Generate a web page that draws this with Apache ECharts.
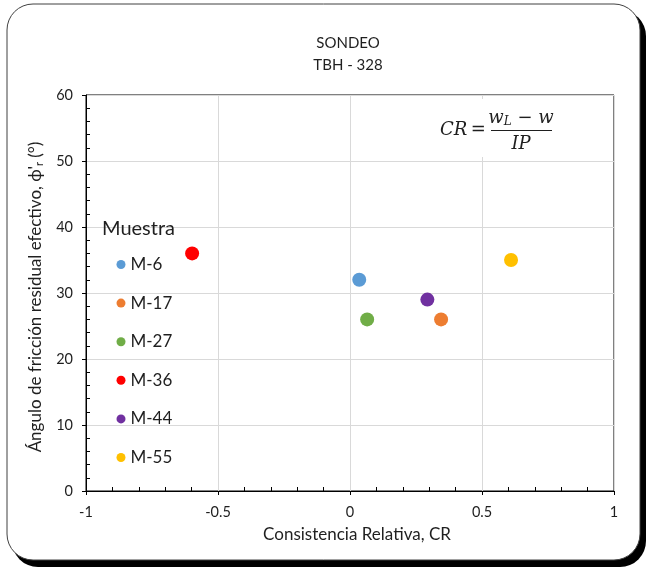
<!DOCTYPE html>
<html>
<head>
<meta charset="utf-8">
<script src="https://cdn.jsdelivr.net/npm/echarts@6/dist/echarts.min.js"></script>
<style>
html,body{margin:0;padding:0;background:#fff;}
#c{width:646px;height:567px;}
</style>
</head>
<body>
<div id="c"></div>
<script>
// ---- data ----
const sampleNames = ['M-6', 'M-17', 'M-27', 'M-36', 'M-44', 'M-55'];
const crValues = [0.035, 0.345, 0.065, -0.598, 0.293, 0.61];
const phiValues = [32, 26, 26, 36, 29, 35];
const sampleColors = ['#5B9BD5', '#ED7D31', '#70AD47', '#FF0000', '#7030A0', '#FFC000'];
const xTicks = { min: -1, max: 1, step: 0.5 };
const yTicks = { min: 0, max: 60, step: 10 };

const FONT = 'Lato, "Liberation Sans", sans-serif';
const TXT = '#1f1f1f';
const chart = echarts.init(document.getElementById('c'), null, { renderer: 'canvas' });

const series = sampleNames.map((name, i) => ({
  name: name,
  type: 'scatter',
  symbol: 'circle',
  symbolSize: 14,
  itemStyle: { color: sampleColors[i], opacity: 1 },
  data: [[crValues[i], phiValues[i]]],
  z: 3
}));

const mathFont = '"DejaVu Serif", "Liberation Serif", serif';

chart.setOption({
  animation: false,
  backgroundColor: 'transparent',
  title: {
    text: 'SONDEO\nTBH - 328',
    left: 343, top: 27, textAlign: 'center',
    textStyle: { fontFamily: FONT, fontSize: 15, fontWeight: 'normal', color: TXT, lineHeight: 22 }
  },
  grid: {
    left: 86, right: 32, top: 95, bottom: 76,
    show: true, borderColor: '#000', borderWidth: 1, backgroundColor: 'transparent'
  },
  legend: {
    orient: 'vertical',
    left: 111.5, top: 250.5,
    itemWidth: 9, itemHeight: 9,
    itemGap: 20.6,
    icon: 'circle',
    textStyle: { fontFamily: FONT, fontSize: 17, color: TXT, lineHeight: 18 },
    data: sampleNames
  },
  xAxis: {
    type: 'value',
    min: xTicks.min, max: xTicks.max, interval: xTicks.step,
    name: 'Consistencia Relativa, CR',
    nameLocation: 'middle', nameGap: 35,
    nameTextStyle: { fontFamily: FONT, fontSize: 17, color: TXT, padding: [0, 0, 0, 14] },
    axisLine: { show: true, onZero: false, lineStyle: { color: '#000', width: 1 } },
    axisTick: { show: true, inside: false, length: 4, lineStyle: { color: '#000' } },
    minorTick: { show: true, splitNumber: 5, length: -4, lineStyle: { color: '#000' } },
    axisLabel: { fontFamily: FONT, fontSize: 14.5, color: TXT, margin: 14 },
    splitLine: { show: true, lineStyle: { color: '#d9d9d9', width: 1 } }
  },
  yAxis: {
    type: 'value',
    min: yTicks.min, max: yTicks.max, interval: yTicks.step,
    name: "{a|Ángulo de fricción residual efectivo, ϕ'}{s|r}{a| (°)}",
    nameLocation: 'middle', nameGap: 39,
    nameTextStyle: {
      fontFamily: FONT, fontSize: 17, color: TXT, padding: [0, 8, 0, 0],
      rich: {
        a: { fontFamily: FONT, fontSize: 17, color: TXT },
        s: { fontFamily: FONT, fontSize: 11, color: TXT, padding: [9, 0, 0, 0] }
      }
    },
    axisLine: { show: true, onZero: false, lineStyle: { color: '#000', width: 1 } },
    axisTick: { show: true, inside: false, length: 4, lineStyle: { color: '#000' } },
    minorTick: { show: true, splitNumber: 5, length: -4, lineStyle: { color: '#000' } },
    axisLabel: { fontFamily: FONT, fontSize: 14.5, color: TXT, margin: 13 },
    splitLine: { show: true, lineStyle: { color: '#d9d9d9', width: 1 } }
  },
  graphic: [
    { type: 'rect', z: -20, silent: true, shape: { x: 12, y: 10, width: 634, height: 557, r: 26 }, style: { fill: '#000' } },
    { type: 'rect', z: -19, silent: true, shape: { x: 7, y: 4, width: 633, height: 556, r: 26 }, style: { fill: '#fff', stroke: '#404040', lineWidth: 1 } },
    { type: 'text', z: 5, silent: true, left: 102, top: 219,
      style: { text: 'Muestra', fontFamily: FONT, fontSize: 20, fill: TXT } },
    { type: 'rect', z: 5, silent: true, shape: { x: 432, y: 99, width: 128, height: 58 }, style: { fill: '#fff' } },
    { type: 'text', z: 6, silent: true, x: 440, y: 130,
      style: { text: '{i|CR} {n|=}', verticalAlign: 'middle', align: 'left',
        rich: { i: { fontFamily: mathFont, fontStyle: 'italic', fontSize: 18, fill: TXT },
                n: { fontFamily: mathFont, fontSize: 18, fill: TXT } } } },
    { type: 'text', z: 6, silent: true, x: 521, y: 118,
      style: { text: '{i|w}{s|L}{n| − }{i|w}', verticalAlign: 'middle', align: 'center',
        rich: { i: { fontFamily: mathFont, fontStyle: 'italic', fontSize: 18, fill: TXT },
                s: { fontFamily: mathFont, fontStyle: 'italic', fontSize: 12, fill: TXT, padding: [8, 0, 0, 0] },
                n: { fontFamily: mathFont, fontSize: 18, fill: TXT } } } },
    { type: 'line', z: 6, silent: true, shape: { x1: 491, y1: 130.5, x2: 552, y2: 130.5 }, style: { stroke: TXT, lineWidth: 1 } },
    { type: 'text', z: 6, silent: true, x: 521, y: 144,
      style: { text: 'IP', verticalAlign: 'middle', align: 'center',
        fontFamily: mathFont, fontStyle: 'italic', fontSize: 18, fill: TXT } }
  ],
  series: series
});
</script>
</body>
</html>
